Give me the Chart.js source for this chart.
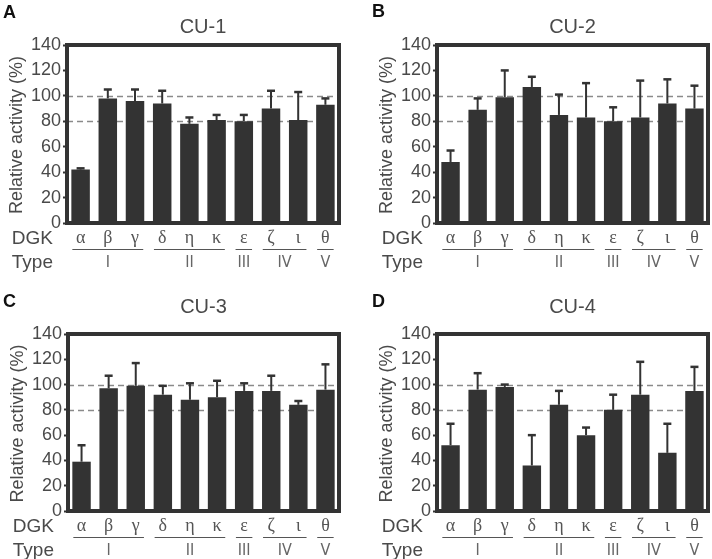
<!DOCTYPE html>
<html>
<head>
<meta charset="utf-8">
<script src="https://cdn.jsdelivr.net/npm/chart.js@4/dist/chart.umd.min.js"></script>
<style>
  body { margin: 0; background: #fff; }
  #wrap { position: relative; width: 712px; height: 559px; }
  canvas { position: absolute; }
</style>
</head>
<body>
<div id="wrap">
  <canvas id="cu1" width="356" height="280" style="left:0;top:0"></canvas>
  <canvas id="cu2" width="356" height="280" style="left:356px;top:0"></canvas>
  <canvas id="cu3" width="356" height="279" style="left:0;top:280px"></canvas>
  <canvas id="cu4" width="356" height="279" style="left:356px;top:280px"></canvas>
</div>
<script>
const dgk = ['α', 'β', 'γ', 'δ', 'η', 'κ', 'ε', 'ζ', 'ι', 'θ'];
const types = ['I', 'II', 'III', 'IV', 'V'];
const typeSizes = [3, 3, 1, 2, 1];
const refLines = [80, 100];
const yMin = 0, yMax = 140, yStep = 20;

// mean relative activity (%) and upper SD
const cu1 = [42, 98, 96, 94, 78, 81, 80, 90, 81, 93];
const cu1Sd = [1, 7, 9, 10, 5, 4, 5, 14, 22, 5];
const cu2 = [48, 89, 99, 107, 85, 83, 80, 83, 94, 90];
const cu2Sd = [9, 9, 21, 8, 16, 27, 11, 29, 19, 18];
const cu3 = [39, 97, 99, 92, 88, 90, 95, 95, 84, 96];
const cu3Sd = [13, 10, 18, 7, 13, 13, 6, 12, 3, 20];
const cu4 = [52, 96, 98, 36, 84, 60, 80, 92, 46, 95];
const cu4Sd = [17, 13, 2, 24, 11, 6, 12, 26, 23, 19];

const dark = '#333333';
const textCol = '#4a4a4a';
const sans = '"Liberation Sans", Arial, sans-serif';

const decor = {
  id: 'decor',
  beforeDatasetsDraw(chart, args, o) {
    const {ctx, chartArea: a, scales: {y}} = chart;
    ctx.save();
    ctx.strokeStyle = '#8a8a8a';
    ctx.lineWidth = 1.3;
    ctx.setLineDash([6, 4]);
    for (const v of refLines) {
      const py = Math.round(y.getPixelForValue(v)) + 0.5;
      ctx.beginPath();
      ctx.moveTo(a.left, py);
      ctx.lineTo(a.right, py);
      ctx.stroke();
    }
    ctx.restore();
  },
  afterDatasetsDraw(chart, args, o) {
    const {ctx, chartArea: a, scales: {x, y}} = chart;
    const vals = chart.data.datasets[0].data;
    ctx.save();
    ctx.strokeStyle = dark;
    ctx.lineWidth = 2;
    vals.forEach((v, i) => {
      const px = x.getPixelForValue(i);
      const top = y.getPixelForValue(v + o.sd[i]);
      ctx.beginPath();
      ctx.moveTo(px, y.getPixelForValue(v));
      ctx.lineTo(px, top);
      ctx.stroke();
      ctx.lineWidth = 2.5;
      ctx.beginPath();
      ctx.moveTo(px - 4, top);
      ctx.lineTo(px + 4, top);
      ctx.stroke();
      ctx.lineWidth = 2;
    });
    // frame
    ctx.lineWidth = 4;
    ctx.strokeRect(a.left, a.top, a.right - a.left, a.bottom - a.top);
    ctx.restore();
  },
  afterDraw(chart, args, o) {
    const {ctx, chartArea: a} = chart;
    const bars = chart.getDatasetMeta(0).data;
    ctx.save();
    ctx.fillStyle = '#111';
    ctx.font = 'bold 18px ' + sans;
    ctx.textAlign = 'left';
    ctx.textBaseline = 'alphabetic';
    ctx.fillText(o.letter, o.letterX, o.letterY);

    ctx.fillStyle = textCol;
    ctx.font = '20px ' + sans;
    ctx.textAlign = 'center';
    ctx.fillText(o.title, (a.left + a.right) / 2, 33);

    ctx.save();
    ctx.translate(a.left - 50, (a.top + a.bottom) / 2 + 1);
    ctx.rotate(-Math.PI / 2);
    ctx.textBaseline = 'middle';
    ctx.font = '18px ' + sans;
    ctx.fillText('Relative activity (%)', 0, 0);
    ctx.restore();

    ctx.font = '19px ' + sans;
    ctx.textAlign = 'right';
    ctx.textBaseline = 'middle';
    ctx.fillText('DGK', a.left - 14, a.bottom + 16);
    ctx.fillText('Type', a.left - 14, a.bottom + 40);

    let start = 0;
    ctx.strokeStyle = '#555';
    ctx.lineWidth = 1;
    typeSizes.forEach((n, g) => {
      const first = bars[start], last = bars[start + n - 1];
      const x0 = first.x - first.width / 2 + 1;
      const x1 = last.x + last.width / 2 - 1;
      const ly = Math.round(a.bottom + 26) + 0.5;
      ctx.beginPath();
      ctx.moveTo(x0, ly);
      ctx.lineTo(x1, ly);
      ctx.stroke();
      ctx.fillStyle = '#666';
      ctx.font = '16px "Liberation Sans Narrow", "DejaVu Sans Condensed", sans-serif';
      ctx.textAlign = 'center';
      ctx.fillText(types[g], (x0 + x1) / 2, a.bottom + 40);
      start += n;
    });
    ctx.restore();
  }
};

function makePanel(id, title, letter, vals, sd, box) {
  const cv = document.getElementById(id);
  return new Chart(cv, {
    type: 'bar',
    data: {
      labels: dgk,
      datasets: [{
        data: vals,
        backgroundColor: dark,
        borderWidth: 0,
        barPercentage: 0.68,
        categoryPercentage: 1
      }]
    },
    options: {
      responsive: false,
      animation: false,
      layout: { padding: { left: 0, top: box.top, right: cv.width - box.right, bottom: 0 } },
      plugins: {
        legend: { display: false },
        tooltip: { enabled: false },
        decor: { sd: sd, title: title, letter: letter, letterX: box.lx, letterY: box.ly }
      },
      scales: {
        x: {
          grid: { display: false, drawTicks: false, tickLength: 0 },
          border: { display: false },
          ticks: { color: '#555', padding: 4, font: { family: '"Liberation Serif", serif', size: 18 } },
          afterFit: s => { s.height = cv.height - box.bottom; }
        },
        y: {
          min: yMin,
          max: yMax,
          border: { display: false },
          grid: { drawOnChartArea: false, tickLength: 4, tickWidth: 2, tickColor: dark },
          ticks: { stepSize: yStep, color: textCol, padding: 2, font: { family: sans, size: 18 } },
          afterFit: s => { s.width = box.left; }
        }
      }
    },
    plugins: [decor]
  });
}

makePanel('cu1', 'CU-1', 'A', cu1, cu1Sd, { left: 67, top: 45, right: 339, bottom: 223, lx: 3, ly: 18 });
makePanel('cu2', 'CU-2', 'B', cu2, cu2Sd, { left: 81, top: 45, right: 352, bottom: 223, lx: 16, ly: 17 });
makePanel('cu3', 'CU-3', 'C', cu3, cu3Sd, { left: 68, top: 54, right: 339, bottom: 231, lx: 3, ly: 27 });
makePanel('cu4', 'CU-4', 'D', cu4, cu4Sd, { left: 81, top: 54, right: 352, bottom: 231, lx: 16, ly: 27 });
</script>
</body>
</html>
